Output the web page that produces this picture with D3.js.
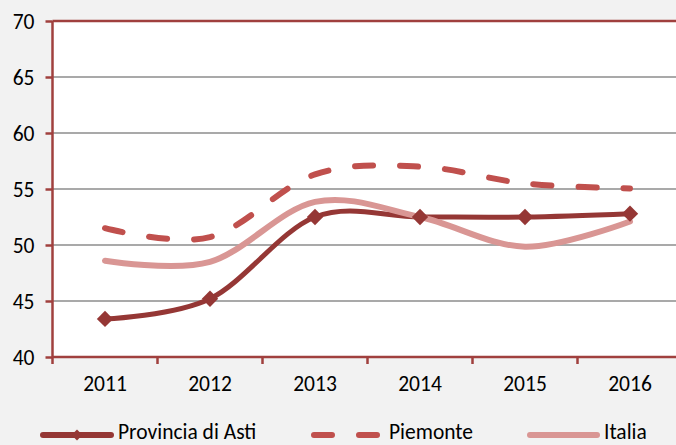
<!DOCTYPE html>
<html>
<head>
<meta charset="utf-8">
<script src="https://cdn.jsdelivr.net/npm/d3@7"></script>
<style>
  body { margin: 0; background: #f2f2f2; }
  text { font-family: Carlito, Calibri, "Open Sans", sans-serif; fill: #000; }
</style>
</head>
<body>
<script>
// data
var years = ["2011", "2012", "2013", "2014", "2015", "2016"];
var asti = [43.4, 45.2, 52.5, 52.5, 52.5, 52.8];
var piemonte = [51.5, 50.7, 56.3, 57.0, 55.5, 55.05];
var italia = [48.6, 48.5, 53.85, 52.5, 49.85, 52.1];
var yTicks = [40, 45, 50, 55, 60, 65, 70];

var w = 676, h = 445;
var margin = {top: 21, left: 52.5, bottom: 88};
var plotW = 630;
var plotH = h - margin.top - margin.bottom;
var fs = "21.5px";

var svg = d3.select("body").append("svg")
    .attr("width", w)
    .attr("height", h);

svg.append("rect").attr("width", w).attr("height", h).attr("fill", "#f2f2f2");

var g = svg.append("g")
    .attr("transform", "translate(" + margin.left + "," + margin.top + ")");

var x = d3.scaleBand().domain(years).range([0, plotW]);
var y = d3.scaleLinear().domain([40, 70]).range([plotH, 0]);
var xc = function(d, i) { return x(years[i]) + x.bandwidth() / 2; };

// plot area
g.append("rect")
    .attr("width", plotW).attr("height", plotH)
    .attr("fill", "#fff");

// gridlines
g.selectAll(".grid")
    .data(yTicks.filter(function(t) { return t > 40 && t < 70; }))
    .enter().append("line")
    .attr("x1", 0).attr("x2", plotW)
    .attr("y1", function(d) { return y(d); })
    .attr("y2", function(d) { return y(d); })
    .attr("stroke", "#8c8c8c")
    .attr("stroke-width", 1.5);

// top border
g.append("line")
    .attr("x1", 0).attr("x2", plotW).attr("y1", 0).attr("y2", 0)
    .attr("stroke", "#a0403e").attr("stroke-width", 2.5);

// y axis
var yAx = g.append("g")
    .call(d3.axisLeft(y).tickValues(yTicks).tickSize(7).tickPadding(11));
yAx.selectAll("path, line").attr("stroke", "#a0403e").attr("stroke-width", 2.5);
yAx.select(".domain").attr("d", "M0," + plotH + "V0");
yAx.selectAll("text").style("font-size", fs).attr("dy", "0.35em");

// x axis, ticks between categories
var xAx = g.append("g")
    .attr("transform", "translate(0," + plotH + ")")
    .call(d3.axisBottom(x).tickSize(0).tickPadding(19));
xAx.select(".domain").attr("stroke", "#a0403e").attr("stroke-width", 2.5)
    .attr("d", "M0,0H" + plotW);
xAx.selectAll("text").style("font-size", fs);
g.selectAll(".xtick")
    .data(d3.range(years.length + 1))
    .enter().append("line")
    .attr("x1", function(i) { return i * x.bandwidth(); })
    .attr("x2", function(i) { return i * x.bandwidth(); })
    .attr("y1", plotH).attr("y2", plotH + 7)
    .attr("stroke", "#a0403e").attr("stroke-width", 2.5);

var line = d3.line()
    .x(xc)
    .y(function(d) { return y(d); })
    .curve(d3.curveCardinal.tension(0));

g.append("path").datum(asti)
    .attr("d", line).attr("fill", "none")
    .attr("stroke", "#953735").attr("stroke-width", 5);

g.append("path").datum(piemonte)
    .attr("d", line).attr("fill", "none")
    .attr("stroke", "#c0504d").attr("stroke-width", 6)
    .attr("stroke-linecap", "round")
    .attr("stroke-dasharray", "18,27");

g.append("path").datum(italia)
    .attr("d", line).attr("fill", "none")
    .attr("stroke", "#d99694").attr("stroke-width", 6)
    .attr("stroke-linecap", "round");

var diamond = d3.symbol().type(d3.symbolDiamond2).size(170);
g.selectAll(".mark")
    .data(asti)
    .enter().append("path")
    .attr("d", diamond)
    .attr("transform", function(d, i) { return "translate(" + xc(d, i) + "," + y(d) + ")"; })
    .attr("fill", "#953735");

// legend
var ly = 435, ty = 439;
var leg = svg.append("g");
leg.append("line").attr("x1", 43).attr("x2", 111).attr("y1", ly).attr("y2", ly)
    .attr("stroke", "#953735").attr("stroke-width", 6).attr("stroke-linecap", "round");
leg.append("path").attr("d", d3.symbol().type(d3.symbolDiamond2).size(75))
    .attr("transform", "translate(77," + ly + ")")
    .attr("fill", "#953735");
leg.append("text").attr("x", 118).attr("y", ty)
    .style("font-size", fs).text("Provincia di Asti");

leg.append("line").attr("x1", 314).attr("x2", 380).attr("y1", ly).attr("y2", ly)
    .attr("stroke", "#c0504d").attr("stroke-width", 6).attr("stroke-linecap", "round")
    .attr("stroke-dasharray", "18,27");
leg.append("text").attr("x", 389).attr("y", ty)
    .style("font-size", fs).text("Piemonte");

leg.append("line").attr("x1", 530).attr("x2", 597).attr("y1", ly).attr("y2", ly)
    .attr("stroke", "#d99694").attr("stroke-width", 6).attr("stroke-linecap", "round");
leg.append("text").attr("x", 604).attr("y", ty)
    .style("font-size", fs).text("Italia");
</script>
</body>
</html>
